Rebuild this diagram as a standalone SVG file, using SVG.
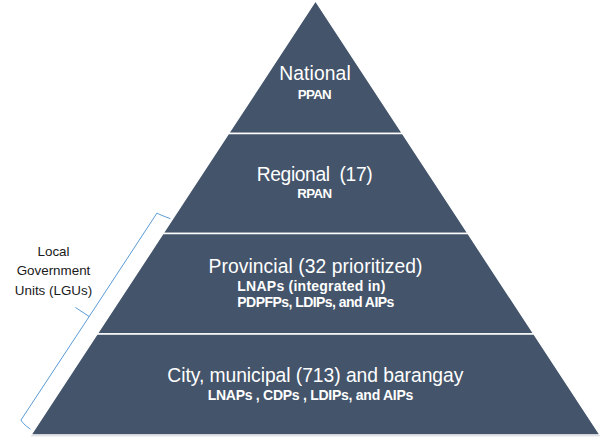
<svg xmlns="http://www.w3.org/2000/svg" width="606" height="446" viewBox="0 0 606 446">
  <style>
    .tier { fill: #44546A; stroke: #FFFFFF; stroke-width: 1.3; stroke-linejoin: miter; }
    .main { font-family: "Liberation Sans", Arial, sans-serif; font-size: 19.3px; fill: #FFFFFF; text-anchor: middle; }
    .sub { font-family: "Liberation Sans", Arial, sans-serif; font-size: 13.3px; font-weight: bold; fill: #FFFFFF; text-anchor: middle; }
    .sub-l { font-size: 14px; }
    .lgu { font-family: "Liberation Sans", Arial, sans-serif; font-size: 13.4px; fill: #1A1A1A; text-anchor: middle; }
    .brace { fill: none; stroke: #5B9BD5; stroke-width: 1; stroke-linejoin: round; stroke-linecap: round; }
  </style>
  <rect width="606" height="446" fill="#FFFFFF"/>

  <g id="national">
    <polygon class="tier" points="315.5,1 402.36,133.5 228.64,133.5"/>
    <text class="main" x="315" y="80" textLength="71.5">National</text>
    <text class="sub" x="314.7" y="98.7" textLength="34">PPAN</text>
  </g>

  <g id="regional">
    <polygon class="tier" points="228.64,133.5 402.36,133.5 467.91,233.5 163.09,233.5"/>
    <text class="main" x="314.7" y="181" textLength="116" xml:space="preserve">Regional  (17)</text>
    <text class="sub" x="314.7" y="198.3" textLength="34.7">RPAN</text>
  </g>

  <g id="provincial">
    <polygon class="tier" points="163.09,233.5 467.91,233.5 533.79,334 97.21,334"/>
    <text class="main" x="315.5" y="272.7" textLength="214">Provincial (32 prioritized)</text>
    <text class="sub sub-l" x="311.3" y="290.7" textLength="148">LNAPs (integrated in)</text>
    <text class="sub sub-l" x="315.8" y="307.3" textLength="157">PDPFPs, LDIPs, and AIPs</text>
  </g>

  <g id="city-municipal-barangay">
    <polygon class="tier" points="97.21,334 533.79,334 600,435 31,435"/>
    <line x1="31" y1="435.8" x2="600" y2="435.8" stroke="#D4D6DA" stroke-width="1"/>
    <text class="main" x="315.3" y="382.3" textLength="296">City, municipal (713) and barangay</text>
    <text class="sub sub-l" x="310.5" y="400" textLength="205.7">LNAPs , CDPs , LDIPs, and AIPs</text>
  </g>

  <g id="lgu-brace">
    <path class="brace" d="M170,218.5 Q159,214.5 157,213 L89.2,316.5 L75.8,307.7 M89.2,316.5 L21,420 Q22,423 30,429"/>
    <text class="lgu" x="53.5" y="255.5">Local</text>
    <text class="lgu" x="53.5" y="275">Government</text>
    <text class="lgu" x="53.5" y="294.5">Units (LGUs)</text>
  </g>
</svg>
